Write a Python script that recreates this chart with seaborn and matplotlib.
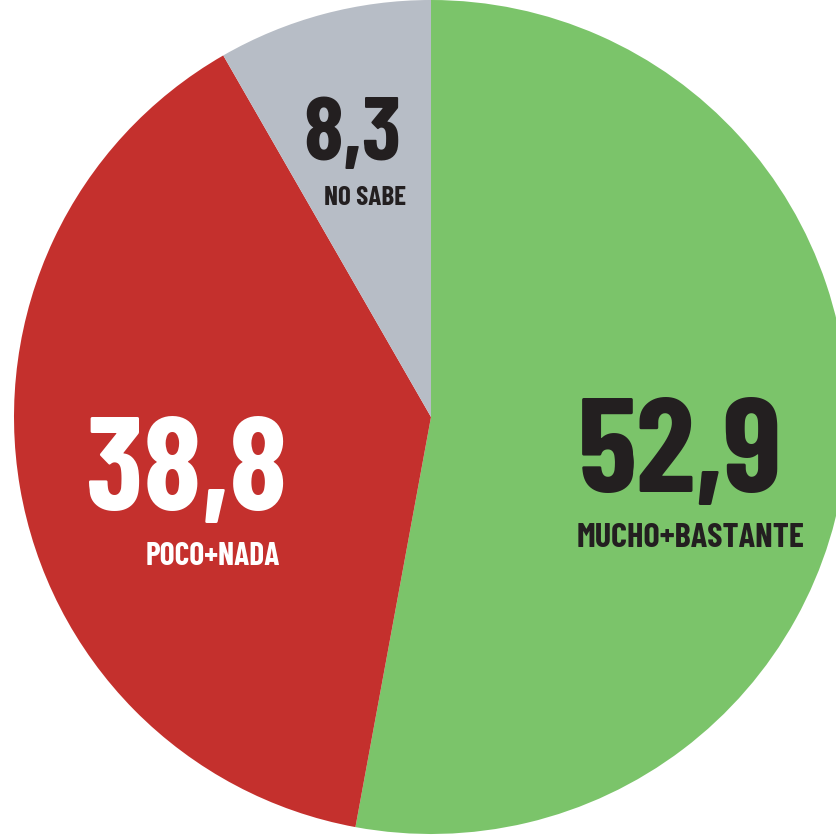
import math
import matplotlib
matplotlib.use("Agg")
from matplotlib import pyplot as plt
from matplotlib import font_manager
from matplotlib.textpath import TextPath
import seaborn as sns

# Encuesta: share of answers
labels = ["MUCHO+BASTANTE", "POCO+NADA", "NO SABE"]
values = [52.9, 38.8, 8.3]
value_text = ["52,9", "38,8", "8,3"]
colors = ["#7BC46A", "#C4302D", "#B7BDC6"]
text_colors = ["#231F20", "#FFFFFF", "#231F20"]

sns.set_theme(style="white")
plt.rcParams["font.family"] = ["DejaVu Sans"]


def ink(s, prop):
    ext = TextPath((0, 0), s, size=100, prop=prop).get_extents()
    return ext.width / 100, ext.height / 100


def pick_condensed():
    # installed condensed / narrow plain-bold face closest in proportions to the reference
    best, best_score = None, None
    for f in font_manager.fontManager.ttflist:
        name = (f.name + " " + str(f.stretch) + " " + f.fname).lower()
        w = f.weight if isinstance(f.weight, int) else 700
        if not ("condensed" in name or "narrow" in name) or "italic" in name:
            continue
        if w < 700 or w > 760 or "black" in name or "heavy" in name or "extrabold" in name:
            continue
        prop = font_manager.FontProperties(fname=f.fname)
        try:
            r_num = ink("52", prop)[0] / ink("52", prop)[1]
            r_all = ink("52,9", prop)[0] / ink("52", prop)[1]
            r_cap = ink("MUCHO+BASTANTE", prop)[0] / ink("H", prop)[1]
        except Exception:
            continue
        score = (abs(math.log(r_num / 1.19)) + abs(math.log(r_all / 2.01))
                 + abs(math.log(r_cap / 9.8)))
        if best_score is None or score < best_score:
            best, best_score = prop, score
    if best is None:
        return font_manager.FontProperties(family="DejaVu Sans", weight="bold")
    return best


fp = pick_condensed()

W, H = 836, 838
fig = plt.figure(figsize=(W / 100, H / 100), dpi=100)
ax = fig.add_axes([0, 0, 1, 1])

cx, cy, r = 431, H - 417, 417
ax.pie(values, colors=colors, startangle=90, counterclock=False,
       radius=r, center=(cx, cy), wedgeprops=dict(linewidth=0))

ax.set_xlim(0, W)
ax.set_ylim(0, H)
ax.set_aspect("equal")
ax.axis("off")

# label boxes in pixels from top-left: (x0, x1, baseline, cap height)
spots = [
    ((583, 778, 492, 97), (573, 808, 547, 24)),
    ((88, 285, 510, 95), (135, 290, 565, 22)),
    ((305, 400, 160, 65), (312, 417, 205, 19)),
]

px_per_pt = 100 / 72
for (num, cap), vt, lab, tc in zip(spots, value_text, labels, text_colors):
    for s, (x0, x1, base, hgt) in ((vt, num), (lab, cap)):
        w1 = ink(s, fp)[0]
        h1 = ink("0" if s[0].isdigit() else "H", fp)[1]
        size_h = hgt / h1 / px_per_pt
        size_w = (x1 - x0) / w1 / px_per_pt * 1.04
        ax.text((x0 + x1) / 2, H - base, s, ha="center", va="baseline",
                fontproperties=fp, fontsize=min(size_h, size_w), color=tc)

fig.savefig("out.png", dpi=100, facecolor="white")
